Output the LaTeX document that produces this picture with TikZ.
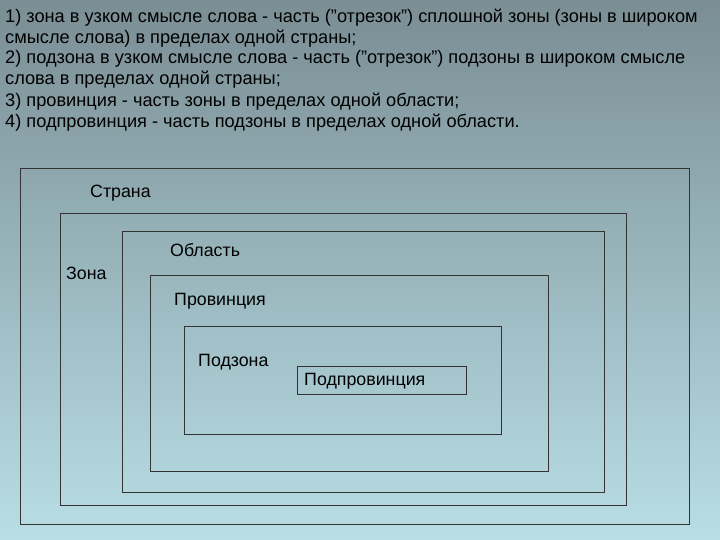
\documentclass[tikz,border=0pt]{standalone}
\usepackage{fontspec}
\setmainfont{Liberation Sans}
\definecolor{bgtop}{RGB}{122,142,148}
\definecolor{bgbot}{RGB}{185,222,230}
\newcommand{\qq}{\symbol{34}}
\begin{document}
\begin{tikzpicture}[x=1pt,y=-1pt,
  box/.style={draw=black!80,line width=0.8pt},
  lbl/.style={anchor=west,inner sep=0pt,font=\fontsize{17.8}{20}\selectfont},
  txt/.style={anchor=west,inner sep=0pt,font=\fontsize{18.2}{20}\selectfont}]
\shade[top color=bgtop,bottom color=bgbot] (0,0) rectangle (720,540);
\useasboundingbox (0,0) rectangle (720,540);
\node[txt] (l1) at (5,18) {1) зона в узком смысле слова - часть (\qq отрезок\qq) сплошной зоны (зоны в широком};
\node[txt] (l2) at (5,39) {смысле слова) в пределах одной страны;};
\node[txt] (l3) at (5,59) {2) подзона в узком смысле слова - часть (\qq отрезок\qq) подзоны в широком смысле};
\node[txt] (l4) at (5,80) {слова в пределах одной страны;};
\node[txt] (l5) at (5,102) {3) провинция - часть зоны в пределах одной области;};
\node[txt] (l6) at (5,123) {4) подпровинция - часть подзоны в пределах одной области.};
\draw[box] (20,168) rectangle (689,524);
\draw[box] (60,213) rectangle (626,505);
\draw[box] (122,231) rectangle (604,492);
\draw[box] (150,275) rectangle (548,471);
\draw[box] (184,326) rectangle (501,434);
\draw[box] (297,366) rectangle (466,394);
\node[lbl] (a) at (90,193) {Страна};
\node[lbl] (b) at (66,273) {Зона};
\node[lbl] (c) at (170,250) {Область};
\node[lbl] (d) at (174,301) {Провинция};
\node[lbl] (e) at (198,362) {Подзона};
\node[lbl] (f) at (304,381) {Подпровинция};
\end{tikzpicture}
\end{document}
